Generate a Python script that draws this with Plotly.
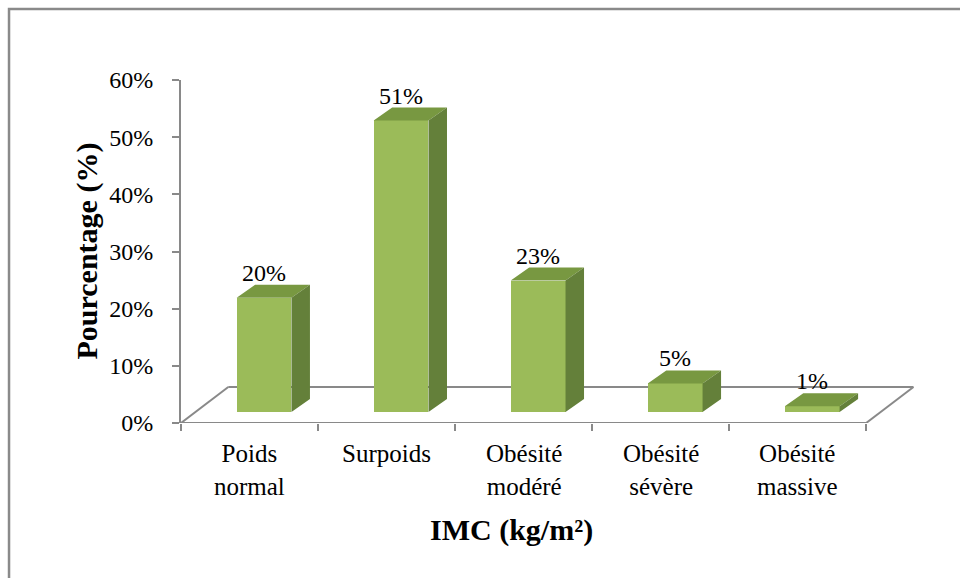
import plotly.graph_objects as go

# Répartition des patients selon l'IMC
categories = ["Poids<br>normal", "Surpoids", "Obésité<br>modéré", "Obésité<br>sévère", "Obésité<br>massive"]
values = [20, 51, 23, 5, 1]
value_labels = ["20%", "51%", "23%", "5%", "1%"]
y_ticks = [0, 10, 20, 30, 40, 50, 60]
y_tick_labels = ["0%", "10%", "20%", "30%", "40%", "50%", "60%"]

# Oblique projection used for the 3-D look (x in category units, y in %)
BAR_W = 0.40
FRONT_DX, FRONT_DY = 0.106, 1.92   # bars stand inside the floor
BAR_DX, BAR_DY = 0.135, 2.27       # depth of each column
FLOOR_DX, FLOOR_DY = 0.345, 6.3    # depth of the floor

FRONT = "#9BBB59"
TOP = "#789841"
SIDE = "#64803A"
AXIS = "#898989"
FONT = "Liberation Serif"

xs = list(range(len(values)))
fig = go.Figure()

# front faces
fig.add_trace(go.Bar(
    x=[x + FRONT_DX for x in xs], y=values, base=FRONT_DY, width=BAR_W,
    marker=dict(color=FRONT, line=dict(width=0)), hoverinfo="skip", showlegend=False,
))

# top and side faces
top_x, top_y, side_x, side_y = [], [], [], []
for x, v in zip(xs, values):
    xl = x + FRONT_DX - BAR_W / 2
    xr = x + FRONT_DX + BAR_W / 2
    b = FRONT_DY
    t = FRONT_DY + v
    top_x += [xl, xr, xr + BAR_DX, xl + BAR_DX, xl, None]
    top_y += [t, t, t + BAR_DY, t + BAR_DY, t, None]
    side_x += [xr, xr, xr + BAR_DX, xr + BAR_DX, xr, None]
    side_y += [b, t, t + BAR_DY, b + BAR_DY, b, None]

fig.add_trace(go.Scatter(x=top_x, y=top_y, mode="lines", fill="toself", fillcolor=TOP,
                         line=dict(width=0, color=TOP), hoverinfo="skip", showlegend=False))
fig.add_trace(go.Scatter(x=side_x, y=side_y, mode="lines", fill="toself", fillcolor=SIDE,
                         line=dict(width=0, color=SIDE), hoverinfo="skip", showlegend=False))

# floor outline
x0, x1 = -0.5, len(values) - 0.5
floor = [
    (x0, 0, x1, 0),
    (x0, 0, x0 + FLOOR_DX, FLOOR_DY),
    (x1, 0, x1 + FLOOR_DX, FLOOR_DY),
    (x0 + FLOOR_DX, FLOOR_DY, x1 + FLOOR_DX, FLOOR_DY),
]
shapes = [dict(type="line", xref="x", yref="y", x0=a, y0=b, x1=c, y1=d, layer="below",
               line=dict(color=AXIS, width=2)) for a, b, c, d in floor]

# chart frame
shapes.append(dict(type="rect", xref="paper", yref="paper", x0=-0.2324, y0=-3, x1=3, y1=1.207,
                   line=dict(color="#8A8A8A", width=2.5), fillcolor="rgba(0,0,0,0)", layer="below"))

annotations = []
for x, v, lab in zip(xs, values, value_labels):
    annotations.append(dict(x=x + FRONT_DX, y=v + FRONT_DY + BAR_DY, xref="x", yref="y",
                            text=lab, showarrow=False, yanchor="bottom", yshift=-3,
                            font=dict(family=FONT, size=24, color="black")))
for x, cat in zip(xs, categories):
    annotations.append(dict(x=x, y=0, xref="x", yref="paper", text=cat, showarrow=False,
                            yanchor="top", yshift=-15, align="center",
                            font=dict(family=FONT, size=25, color="black")))

annotations.append(dict(x=1.91, y=0, xref="x", yref="paper", text="<b>IMC (kg/m²)</b>",
                        showarrow=False, yanchor="middle", yshift=-107,
                        font=dict(family=FONT, size=30, color="black")))
annotations.append(dict(x=0, y=0.5, xref="paper", yref="paper", text="<b>Pourcentage (%)</b>",
                        showarrow=False, textangle=-90, xanchor="center", yanchor="middle",
                        xshift=-95, font=dict(family=FONT, size=30, color="black")))

fig.update_layout(
    width=960, height=578,
    margin=dict(l=181, r=39, t=80, b=155),
    paper_bgcolor="white", plot_bgcolor="white",
    shapes=shapes, annotations=annotations,
    xaxis=dict(range=[-0.5, 4.9], showgrid=False, zeroline=False, showline=False,
               tickvals=[k - 0.5 for k in range(len(values) + 1)],
               ticktext=[""] * (len(values) + 1), ticks="outside", ticklen=7,
               tickcolor=AXIS, tickwidth=2),
    yaxis=dict(range=[0, 60], tickvals=y_ticks, ticktext=y_tick_labels, showgrid=False,
               zeroline=False, showline=True, linecolor=AXIS, linewidth=2,
               ticks="outside", ticklen=7, tickcolor=AXIS, tickwidth=2,
               ticklabelstandoff=14,
               tickfont=dict(family=FONT, size=24, color="black")),
    bargap=0,
)

fig.write_html("out.html")
